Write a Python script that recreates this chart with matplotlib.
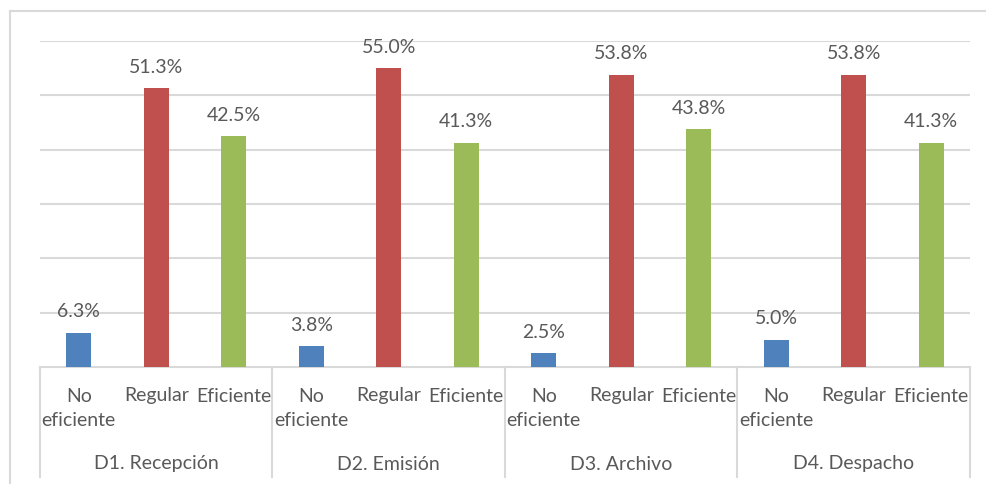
import numpy as np
import matplotlib.pyplot as plt
from matplotlib.lines import Line2D

groups = ['D1. Recepción', 'D2. Emisión', 'D3. Archivo', 'D4. Despacho']
levels = ['No\neficiente', 'Regular', 'Eficiente']
values = [
    [6.3, 51.3, 42.5],
    [3.8, 55.0, 41.3],
    [2.5, 53.8, 43.8],
    [5.0, 53.8, 41.3],
]
colors = ['#4F81BD', '#C0504D', '#9BBB59']
text_color = '#595959'
grid_color = '#D9D9D9'

plt.rcParams['font.family'] = ['Lato', 'DejaVu Sans']

W, H = 987, 484
fig = plt.figure(figsize=(W / 100, H / 100), dpi=100)

# plot area in pixels
x0, x1 = 40, 970
ybase, ytop = 367, 41
ax = fig.add_axes([x0 / W, 1 - ybase / H, (x1 - x0) / W, (ybase - ytop) / H])

n = len(groups) * len(levels)
xs = np.arange(n)
flat = [v for g in values for v in g]
cols = [colors[i % 3] for i in range(n)]
ax.bar(xs, flat, width=0.32, color=cols, zorder=3)

for x, v in zip(xs, flat):
    ax.annotate(f'{v:.1f}%', (x, v), xytext=(0, 9), textcoords='offset points',
                ha='center', va='bottom', fontsize=14, color=text_color)

ax.set_xlim(-0.5, n - 0.5)
ax.set_ylim(0, 60)
ax.set_yticks(np.arange(10, 61, 10))
ax.yaxis.grid(True, color=grid_color, linewidth=1.5, zorder=0)
ax.set_xticks([])
ax.tick_params(left=False, labelleft=False)
for s in ['top', 'right', 'left']:
    ax.spines[s].set_visible(False)
ax.spines['bottom'].set_color(grid_color)
ax.spines['bottom'].set_linewidth(1.5)

ah = ybase - ytop
trans = ax.get_xaxis_transform()
# category labels
for x in xs:
    if x % 3 == 0:
        ypix = 409
    else:
        ypix = 396
    ax.text(x, -(ypix - ybase) / ah, levels[x % 3], transform=trans, ha='center', va='center',
            fontsize=14, color=text_color, linespacing=1.5)
for i, g in enumerate(groups):
    ax.text(i * 3 + 1, -(464 - ybase) / ah, g, transform=trans, ha='center', va='center',
            fontsize=14, color=text_color)
# separators
for i in range(len(groups) + 1):
    ax.add_line(Line2D([i * 3 - 0.5] * 2, [0, -(477 - ybase) / ah], transform=trans,
                       color=grid_color, linewidth=1.5, clip_on=False))

# outer chart frame
fig.add_artist(Line2D([10 / W, 10 / W], [0, 1 - 11 / H], transform=fig.transFigure,
                      color=grid_color, linewidth=1.5))
fig.add_artist(Line2D([10 / W, 1], [1 - 11 / H, 1 - 11 / H], transform=fig.transFigure,
                      color=grid_color, linewidth=1.5))

fig.savefig('out.png', dpi=100)
